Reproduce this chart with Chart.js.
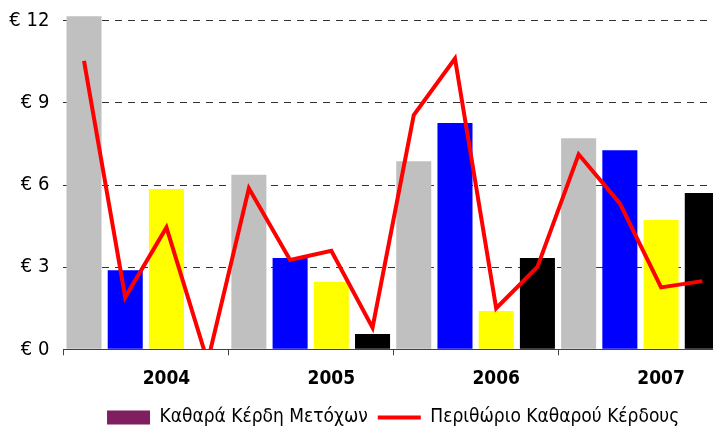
<!DOCTYPE html>
<html><head><meta charset="utf-8">
<script src="https://cdn.jsdelivr.net/npm/chart.js@4"></script>
<style>
html,body{margin:0;padding:0;overflow:hidden;background:#fff;width:713px;height:427px}
#wrap{position:absolute;left:0;top:0;width:730px;height:437px}
</style>
</head><body><div id="wrap"><canvas id="c"></canvas></div>
<script>
const years = ['2004', '2005', '2006', '2007'];
const quarters = ['Q1', 'Q2', 'Q3', 'Q4'];
const categories = ['2004 Q1','2004 Q2','2004 Q3','2004 Q4','2005 Q1','2005 Q2','2005 Q3','2005 Q4','2006 Q1','2006 Q2','2006 Q3','2006 Q4','2007 Q1','2007 Q2','2007 Q3','2007 Q4'];
const xTickLabels = ['', '', '2004', '', '', '', '2005', '', '', '', '2006', '', '', '', '2007', ''];
const netProfit = [12.16, 2.89, 5.85, null, 6.37, 3.33, 2.47, 0.56, 6.87, 8.26, 1.40, 3.33, 7.71, 7.27, 4.72, 5.71];
const netMargin = [10.53, 1.90, 4.45, -0.45, 5.88, 3.26, 3.60, 0.79, 8.55, 10.62, 1.50, 3.01, 7.12, 5.33, 2.26, 2.49];
const yTicks = [0, 3, 6, 9, 12];
const yTickLabels = ['€ 0', '€ 3', '€ 6', '€ 9', '€ 12'];
const seriesNames = ['Καθαρά Κέρδη Μετόχων', 'Περιθώριο Καθαρού Κέρδους'];
const quarterColors = ['#C0C0C0', '#0000FF', '#FFFF00', '#000000'];
const legendBarColor = '#7F1F5F';
const lineColor = '#FF0000';

Chart.defaults.font.family = 'DejaVu Sans Condensed';
Chart.defaults.color = '#000';

new Chart(document.getElementById('c'), {
  type: 'bar',
  data: {
    labels: categories,
    datasets: [
      {
        type: 'bar',
        label: seriesNames[0],
        data: netProfit,
        backgroundColor: categories.map((_, i) => quarterColors[i % 4]),
        barPercentage: 0.85,
        categoryPercentage: 1,
        clip: {left: 0, right: 0, bottom: 0, top: false},
        order: 2
      },
      {
        type: 'line',
        label: seriesNames[1],
        data: netMargin,
        borderColor: lineColor,
        backgroundColor: lineColor,
        borderWidth: 4,
        pointRadius: 0,
        tension: 0,
        clip: 0,
        order: 1
      }
    ]
  },
  options: {
    responsive: true,
    maintainAspectRatio: false,
    animation: false,
    devicePixelRatio: 1,
    layout: {padding: {top: 20.7, right: 7.1, left: 0, bottom: 0}},
    plugins: {
      tooltip: {enabled: false},
      legend: {
        position: 'bottom',
        fullSize: false,
        labels: {
          usePointStyle: true,
          pointStyleWidth: 43,
          boxHeight: 14,
          padding: 10,
          font: {size: 19},
          color: '#000',
          generateLabels: () => [
            {text: seriesNames[0], fillStyle: legendBarColor, strokeStyle: legendBarColor, lineWidth: 0, pointStyle: 'rect', datasetIndex: 0},
            {text: seriesNames[1], fillStyle: lineColor, strokeStyle: lineColor, lineWidth: 4, pointStyle: 'line', datasetIndex: 1}
          ]
        }
      }
    },
    scales: {
      x: {
        offset: true,
        afterFit: s => { s.height = 48.7; },
        grid: {
          offset: true,
          drawOnChartArea: false,
          drawTicks: true,
          tickLength: 6,
          color: ctx => (ctx.index % 4 === 0 ? '#404040' : 'rgba(0,0,0,0)'),
          tickColor: ctx => (ctx.index % 4 === 0 ? '#404040' : 'rgba(0,0,0,0)')
        },
        border: {display: true, color: '#404040', width: 1},
        ticks: {
          autoSkip: false,
          maxRotation: 0,
          padding: 12,
          font: {size: 19, weight: 'bold'},
          callback: (v, i) => xTickLabels[i]
        }
      },
      y: {
        min: 0,
        max: 12,
        afterFit: s => { s.width = 63.4; s.paddingTop = 0; s.paddingBottom = 0; },
        afterBuildTicks: s => { s.ticks = yTicks.map(v => ({value: v})); },
        grid: {
          drawTicks: false,
          color: ctx => (ctx.tick && ctx.tick.value === 0 ? 'rgba(0,0,0,0)' : '#333333'),
          lineWidth: 1
        },
        border: {display: false, dash: [7, 6]},
        ticks: {
          padding: 14,
          font: {size: 20},
          callback: v => yTickLabels[yTicks.indexOf(v)]
        }
      }
    }
  }
});
</script>
</body></html>
